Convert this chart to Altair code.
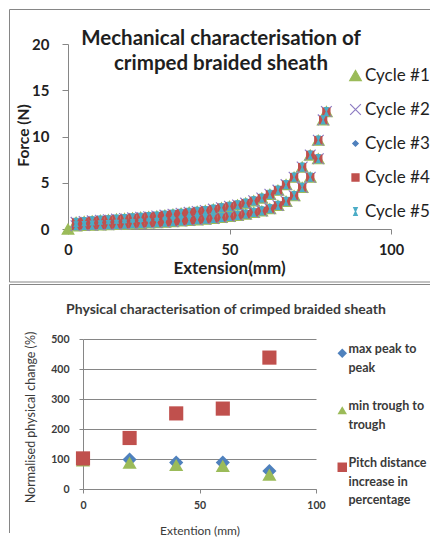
import altair as alt
import pandas as pd

# ---------------- data: top chart (force vs extension, 5 cycles) ----------------
cycle_names = ["Cycle #1", "Cycle #2", "Cycle #3", "Cycle #4", "Cycle #5"]
start_x = [0.0]          # only cycle #1 shows a marker at the origin
start_force = [0.0]
loading_x = [2.5, 5, 7.5, 10, 12.5, 15, 17.5, 20, 22.5, 25, 27.5, 30, 32.5, 35, 37.5, 40,
             42.5, 45, 47.5, 50, 52.5, 55, 57.5, 60, 62.5, 65, 67.5, 70, 72.5, 75, 77.5, 80]
loading_force = [0.72, 0.8, 0.88, 0.95, 1.0, 1.07, 1.13, 1.2, 1.26, 1.33, 1.4, 1.5, 1.6, 1.7, 1.8, 1.9,
                 2.0, 2.15, 2.3, 2.45, 2.6, 2.8, 3.05, 3.35, 3.75, 4.2, 4.8, 5.6, 6.7, 8.0, 9.6, 12.7]
unloading_x = [79, 77.5, 75, 72.5, 70, 67.5, 65, 62.5, 60, 57.5, 55, 52.5, 50, 47.5, 45, 42.5,
               40, 37.5, 35, 32.5, 30, 27.5, 25, 22.5, 20, 17.5, 15, 12.5, 10, 7.5, 5, 2.5]
unloading_force = [11.8, 7.6, 5.6, 4.5, 3.6, 3.0, 2.55, 2.2, 1.95, 1.8, 1.62, 1.48, 1.36, 1.25, 1.15, 1.07,
                   1.0, 0.93, 0.87, 0.8, 0.74, 0.7, 0.65, 0.61, 0.57, 0.53, 0.5, 0.47, 0.44, 0.41, 0.38, 0.35]

# ---------------- data: bottom chart ----------------
series_names = ["max peak to peak", "min trough to trough", "Pitch distance increase in percentage"]
ext_mm = [0, 20, 40, 60, 80]
max_peak = [100, 98, 88, 88, 60]
min_trough = [95, 88, 80, 77, 48]
pitch_increase = [102, 170, 252, 268, 438]

# ---------------- tables ----------------
rows1 = []
for i, c in enumerate(cycle_names):
    xs = (start_x if i == 0 else []) + loading_x + unloading_x
    ys = (start_force if i == 0 else []) + loading_force + unloading_force
    for xv, yv in zip(xs, ys):
        rows1.append({"cycle": c, "ext": xv, "force": yv})
df1 = pd.DataFrame(rows1)

rows2 = []
for name, vals in zip(series_names, [max_peak, min_trough, pitch_increase]):
    for xv, yv in zip(ext_mm, vals):
        rows2.append({"series": name, "ext": xv, "pct": yv})
df2 = pd.DataFrame(rows2)

one = pd.DataFrame({"k": [0]})

FONT = "Lato"
AX = "#868686"
TXT = "#1f1f1f"
TXT2 = "#3a3a3a"


def rule(x, y, x2=None, y2=None):
    enc = dict(x=alt.value(x), y=alt.value(y))
    if x2 is not None:
        enc["x2"] = alt.value(x2)
    if y2 is not None:
        enc["y2"] = alt.value(y2)
    return alt.Chart(one).mark_rule(color=AX, strokeWidth=1).encode(**enc)


def text(t, x, y, size, weight="bold", color=TXT):
    return alt.Chart(one).mark_text(
        text=t, font=FONT, fontSize=size, fontWeight=weight, color=color,
        align="center", baseline="alphabetic"
    ).encode(x=alt.value(x), y=alt.value(y))


# ---------------- top chart ----------------
W1, H1 = 323, 185
shapes1 = ["triangle-up", "M-1,-1L1,1M-1,1L1,-1", "diamond", "square",
           "M-0.45,-1L0.45,-1L0,0L0.45,1L-0.45,1L0,0Z"]
fills1 = ["#9BBB59", "transparent", "#4F81BD", "#C0504D", "#4BACC6"]
strokes1 = ["#9BBB59", "#8E7CC3", "#4F81BD", "#C0504D", "#4BACC6"]
sizes1 = [135, 115, 30, 50, 64]

leg1 = alt.Legend(title=None, orient="none", legendX=279, legendY=23, padding=0,
                  labelFont=FONT, labelFontSize=17, labelColor=TXT, labelOffset=1,
                  rowPadding=16, symbolStrokeWidth=1.2)

pts1 = alt.Chart(df1).mark_point(filled=True, opacity=1, strokeWidth=1.2).encode(
    x=alt.X("ext:Q", scale=alt.Scale(domain=[0, 100], nice=False, zero=False),
            axis=alt.Axis(values=[0, 50, 100], title="Extension(mm)", grid=False,
                          domainColor=AX, tickColor=AX, tickSize=5, labelFlush=False,
                          labelFont=FONT, labelFontSize=14.5, labelFontWeight="bold", labelColor=TXT,
                          labelPadding=16, labelBaseline="middle",
                          titleFont=FONT, titleFontSize=17, titleFontWeight="bold", titleColor=TXT,
                          titleX=161, titleY=39, titleBaseline="middle", titleAlign="center")),
    y=alt.Y("force:Q", scale=alt.Scale(domain=[0, 20], nice=False),
            axis=alt.Axis(values=[0, 5, 10, 15, 20], title="Force (N)", grid=False,
                          domainColor=AX, tickColor=AX, tickSize=6, labelFlush=False,
                          labelFont=FONT, labelFontSize=15, labelFontWeight="bold", labelColor=TXT,
                          labelPadding=13, labelBaseline="middle",
                          titleFont=FONT, titleFontSize=15.5, titleFontWeight="bold", titleColor=TXT,
                          titleX=-45, titleY=91, titleAngle=270, titleBaseline="middle",
                          titleAlign="center")),
    shape=alt.Shape("cycle:N", scale=alt.Scale(domain=cycle_names, range=shapes1), legend=leg1),
    fill=alt.Fill("cycle:N", scale=alt.Scale(domain=cycle_names, range=fills1), legend=leg1),
    stroke=alt.Stroke("cycle:N", scale=alt.Scale(domain=cycle_names, range=strokes1), legend=leg1),
    size=alt.Size("cycle:N", scale=alt.Scale(type="ordinal", domain=cycle_names, range=sizes1),
                  legend=leg1),
)

top = alt.layer(
    rule(-58.5, -34.5, y2=238),
    rule(-58.5, -34.5, x2=362),
    rule(-58.5, 238, x2=362),
    text("Mechanical characterisation of", 153, 0.5, 20.5),
    text("crimped braided sheath", 153, 25.5, 20.5),
    pts1,
).properties(width=W1, height=H1)

# ---------------- bottom chart ----------------
# both panels share the same left origin in a vconcat; the lower panel's data
# rectangle starts 15 px further right, so its x range starts at 15.
W2, H2 = 248, 150
X0 = 15
label_expr = ("datum.label == 'max peak to peak' ? ['max peak to', 'peak'] : "
              "datum.label == 'min trough to trough' ? ['min trough to', 'trough'] : "
              "['Pitch distance', 'increase in', 'percentage']")
leg2 = alt.Legend(title=None, orient="none", legendX=268, legendY=8, padding=0,
                  labelFont=FONT, labelFontSize=12.5, labelFontWeight="bold", labelColor=TXT2,
                  labelBaseline="alphabetic", labelOffset=0, rowPadding=25, symbolSize=90,
                  labelExpr=label_expr)

pts2 = alt.Chart(df2).mark_point(filled=True, opacity=1, size=200, strokeWidth=0).encode(
    x=alt.X("ext:Q", scale=alt.Scale(domain=[0, 100], range=[X0, W2], nice=False, zero=False),
            axis=alt.Axis(values=[0, 50, 100], title="Extention (mm)", grid=False,
                          domainColor=AX, tickColor=AX, tickSize=4, labelFlush=False,
                          labelFont=FONT, labelFontSize=10.5, labelFontWeight="bold", labelColor=TXT2,
                          labelPadding=12, labelBaseline="middle",
                          titleFont=FONT, titleFontSize=12, titleFontWeight="normal", titleColor=TXT2,
                          titleX=131.5, titleY=41, titleBaseline="middle", titleAlign="center")),
    y=alt.Y("pct:Q", scale=alt.Scale(domain=[0, 500], nice=False),
            axis=alt.Axis(values=[0, 100, 200, 300, 400, 500], title="Normalised physical change (%)",
                          offset=-X0,
                          grid=True, gridColor=AX, domainColor=AX, tickColor=AX, tickSize=4,
                          labelFlush=False,
                          labelFont=FONT, labelFontSize=10.5, labelFontWeight="bold", labelColor=TXT2,
                          labelPadding=10, labelBaseline="middle",
                          titleFont=FONT, titleFontSize=12.5, titleFontWeight="normal", titleColor=TXT2,
                          titleX=-53, titleY=78, titleAngle=270, titleBaseline="middle",
                          titleAlign="center")),
    color=alt.Color("series:N", scale=alt.Scale(domain=series_names,
                                                range=["#4F81BD", "#9BBB59", "#C0504D"]), legend=leg2),
    shape=alt.Shape("series:N", scale=alt.Scale(domain=series_names,
                                                range=["diamond", "triangle-up", "square"]), legend=leg2),
)

bottom = alt.layer(
    rule(-58.5, -54.5, y2=194),
    rule(-58.5, -54.5, x2=362),
    text("Physical characterisation of crimped braided sheath", 158, -25.5, 14, "bold", TXT2),
    pts2,
).properties(width=W2, height=H2)

chart = alt.vconcat(top, bottom, spacing=0).resolve_scale(
    x="independent", y="independent", color="independent", fill="independent",
    stroke="independent", shape="independent", size="independent"
).resolve_legend(
    color="independent", fill="independent", stroke="independent",
    shape="independent", size="independent"
).properties(
    padding=0, background="white"
).configure(style={"guide-label": {"lineHeight": 18.5}}).configure_view(stroke="transparent")

chart.save("out.html", embed_options={"renderer": "svg", "actions": False})
